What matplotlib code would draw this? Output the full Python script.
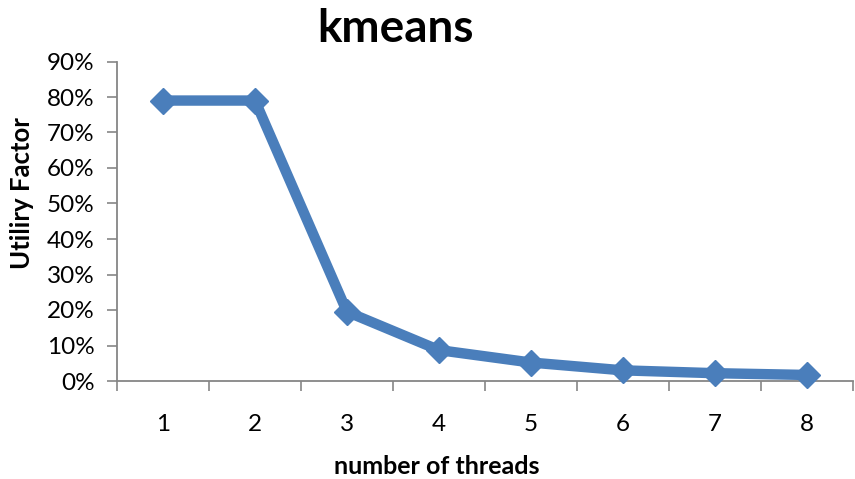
import numpy as np
import matplotlib.pyplot as plt
from matplotlib.ticker import MultipleLocator, FuncFormatter

# kmeans utility factor vs thread count
threads = ['1', '2', '3', '4', '5', '6', '7', '8']
utility = [0.79, 0.79, 0.195, 0.087, 0.052, 0.030, 0.022, 0.017]

plt.rcParams['font.family'] = ['Lato', 'DejaVu Sans']
W, H = 855, 479
fig = plt.figure(figsize=(W / 100, H / 100), dpi=100)
ax = fig.add_axes([117 / W, 1 - 381 / H, (853 - 117) / W, (381 - 61.5) / H])

x = np.arange(1, len(threads) + 1)
ax.plot(x, utility, color='#4A7EBB', lw=7.5, marker='D', ms=13.5,
        solid_joinstyle='miter', clip_on=False, zorder=3)

ax.set_xlim(0.5, len(threads) + 0.5)
ax.set_ylim(0, 0.9)
ax.yaxis.set_major_locator(MultipleLocator(0.1))
ax.yaxis.set_major_formatter(FuncFormatter(lambda v, p: '%d%%' % round(v * 100)))

# category axis: ticks on the boundaries, labels in the middle
ax.set_xticks(np.arange(0.5, len(threads) + 1, 1))
ax.set_xticklabels([])
ax.set_xticks(x, minor=True)
ax.set_xticklabels(threads, minor=True)
ax.tick_params(axis='x', which='minor', length=0, pad=24, labelsize=17.5)
ax.tick_params(axis='x', which='major', length=7, width=1.2, color='#868686', direction='out')
ax.tick_params(axis='y', length=7, width=1.2, color='#868686', labelsize=17.5, pad=9)

for s in ['top', 'right']:
    ax.spines[s].set_visible(False)
for s in ['left', 'bottom']:
    ax.spines[s].set_color('#868686')
    ax.spines[s].set_linewidth(1.3)

fig.text(395 / W, 1 - 29 / H, 'kmeans', ha='center', va='center',
         fontsize=33, fontweight='bold')
fig.text(437 / W, 1 - 466 / H, 'number of threads', ha='center', va='center',
         fontsize=18, fontweight='bold')
fig.text(22 / W, 1 - 193 / H, 'Utiliry Factor', ha='center', va='center',
         rotation=90, fontsize=18.5, fontweight='bold')

fig.savefig('out.png', dpi=100)
